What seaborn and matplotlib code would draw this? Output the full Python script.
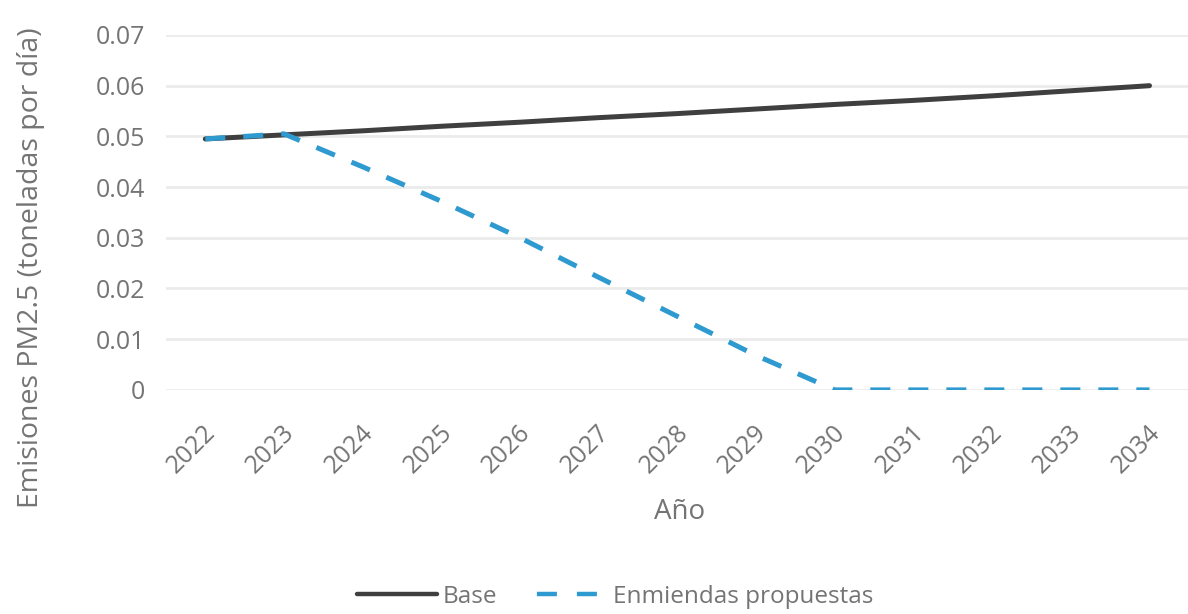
import pandas as pd
import matplotlib.pyplot as plt
import matplotlib.transforms as mtransforms
import seaborn as sns

# data
years = ["2022", "2023", "2024", "2025", "2026", "2027", "2028",
         "2029", "2030", "2031", "2032", "2033", "2034"]
base = [0.0495, 0.0503, 0.0511, 0.0520, 0.0528, 0.0537, 0.0545,
        0.0554, 0.0563, 0.0571, 0.0580, 0.0590, 0.0600]
propuestas = [0.0495, 0.0505, 0.0440, 0.0372, 0.0300, 0.0222, 0.0145,
              0.0068, 0.0, 0.0, 0.0, 0.0, 0.0]
series_names = ["Base", "Enmiendas propuestas"]

df = pd.DataFrame({
    "Año": years * 2,
    "valor": base + propuestas,
    "serie": [series_names[0]] * len(years) + [series_names[1]] * len(years),
})

sns.set_style("white")
plt.rcParams["font.family"] = ["Open Sans", "DejaVu Sans"]
txt = "#747474"

fig = plt.figure(figsize=(11.88, 6.14), dpi=100)
ax = fig.add_axes([0.1397, 0.365, 0.861, 0.578])

sns.lineplot(data=df, x="Año", y="valor", hue="serie", style="serie",
             palette={"Base": "#3f3f3f", "Enmiendas propuestas": "#2e9ad0"},
             dashes={"Base": "", "Enmiendas propuestas": (4, 3.6)},
             linewidth=3.6, sort=False, ax=ax, legend=True)

ax.set_xlim(-0.5, len(years) - 0.5)
ax.set_ylim(0, 0.07)
ax.set_yticks([0, 0.01, 0.02, 0.03, 0.04, 0.05, 0.06, 0.07])
ax.set_yticklabels(["0", "0.01", "0.02", "0.03", "0.04", "0.05", "0.06", "0.07"])
ax.grid(axis="y", color="#ebebeb", linewidth=2)
ax.set_axisbelow(True)
sns.despine(ax=ax, left=True, bottom=True)
ax.tick_params(axis="both", length=0, colors=txt, labelsize=18)
ax.tick_params(axis="y", pad=15)
ax.tick_params(axis="x", pad=22)
shift = mtransforms.ScaledTranslation(-2 / 100, 0, fig.dpi_scale_trans)
for lab in ax.get_xticklabels():
    lab.set_rotation(45)
    lab.set_ha("right")
    lab.set_rotation_mode("anchor")
    lab.set_transform(lab.get_transform() + shift)

ax.set_xlabel("")
ax.set_ylabel("")
fig.text(0.572, 0.166, "Año", ha="center", va="center", fontsize=20, color=txt)
fig.text(0.026, 0.5635, "Emisiones PM2.5 (toneladas por día)", rotation=90,
         ha="center", va="center", fontsize=20.5, color=txt)

handles, labels = ax.get_legend_handles_labels()
ax.get_legend().remove()
leg = fig.legend(handles, labels, loc="center", bbox_to_anchor=(0.518, 0.028),
                 ncol=2, frameon=False, fontsize=17.5, handlelength=3.3,
                 handletextpad=0.2, columnspacing=1.3)
for t in leg.get_texts():
    t.set_color(txt)
for h in leg.legend_handles:
    h.set_linewidth(3.2)
leg.legend_handles[1].set_linestyle((7, (4.5, 4.5)))

fig.savefig("out.png", dpi=100)
